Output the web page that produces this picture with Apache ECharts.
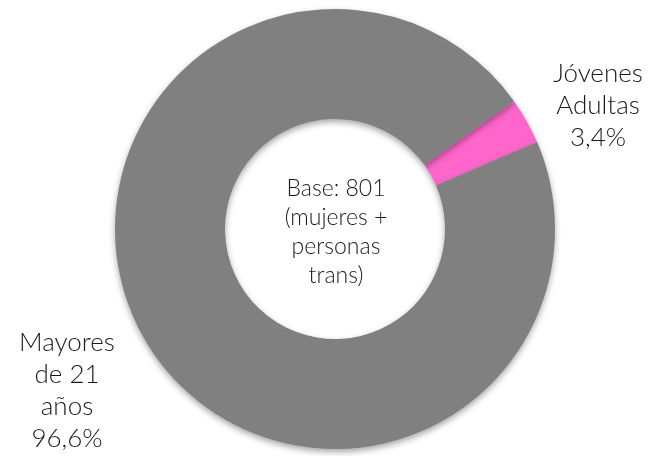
<!DOCTYPE html>
<html>
<head>
<meta charset="utf-8">
<script src="https://cdn.jsdelivr.net/npm/echarts@6/dist/echarts.min.js"></script>
<style>
  html, body { margin: 0; padding: 0; background: #fff; }
  #chart { width: 658px; height: 456px; }
</style>
</head>
<body>
<div id="chart"></div>
<script>
// categories, values and label text
const categories = ['Jóvenes\nAdultas', 'Mayores\nde 21\naños']
const values = [3.4, 96.6]
const colors = ['#FF66CC', '#808080']
const centerText = 'Base: 801\n(mujeres +\npersonas\ntrans)'
// label anchor points (centre of each text block)
const labelPos = [[598, 106], [67, 391]]

const myChart = echarts.init(document.getElementById('chart'))
const font = 'Lato, "Noto Sans", sans-serif'

myChart.setOption({
  animation: false,
  graphic: [
    {
      type: 'text',
      x: 336,
      y: 232,
      style: {
        text: centerText,
        align: 'center',
        verticalAlign: 'middle',
        font: '300 23px ' + font,
        lineHeight: 29,
        fill: '#1a1a1a',
      },
    },
  ],
  series: [
    {
      type: 'pie',
      center: [335, 229],
      radius: [110, 220],
      startAngle: 35.5,
      clockwise: true,
      silent: true,
      itemStyle: {
        shadowBlur: 6,
        shadowOffsetY: 3,
        shadowColor: 'rgba(0,0,0,0.35)',
      },
      label: {
        show: true,
        position: 'outside',
        formatter: (p) => p.name + '\n' + String(p.value).replace('.', ',') + '%',
        fontFamily: font,
        fontWeight: 300,
        fontSize: 26,
        lineHeight: 32,
        color: '#1a1a1a',
        align: 'center',
        overflow: 'none',
        width: 200,
      },
      labelLine: { show: false },
      labelLayout: (params) => {
        const pos = labelPos[params.dataIndex]
        return {
          x: pos[0],
          y: pos[1],
          align: 'center',
          verticalAlign: 'middle',
        }
      },
      data: categories.map((name, i) => ({
        name: name,
        value: values[i],
        itemStyle: { color: colors[i] },
      })),
    },
  ],
})
</script>
</body>
</html>
